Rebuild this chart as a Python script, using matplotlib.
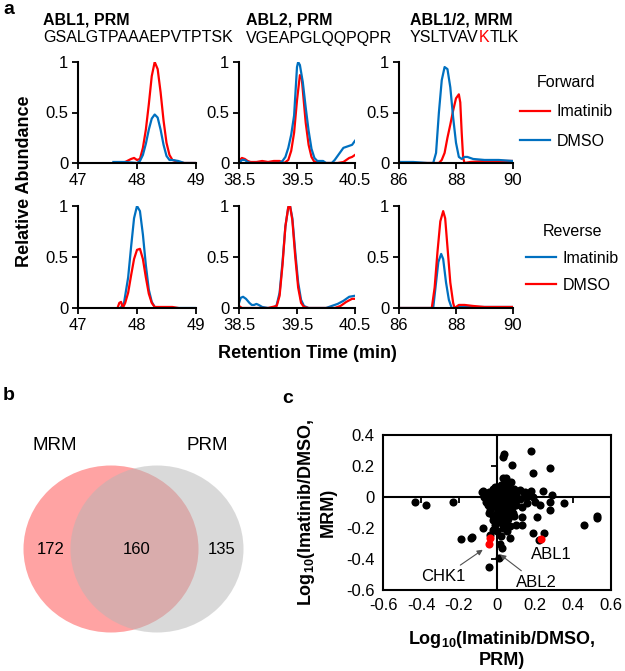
import matplotlib.pyplot as plt
from matplotlib.patches import Ellipse

plt.rcParams['font.family'] = 'Liberation Sans'
plt.rcParams['mathtext.fontset'] = 'custom'
plt.rcParams['mathtext.bf'] = 'Liberation Sans:bold'
plt.rcParams['mathtext.default'] = 'bf'

RED = '#FF0000'
BLUE = '#0070C0'

# ---- panel a : chromatograms (time in min, relative abundance) ----
# forward, ABL1 PRM
abl1_fwd_ima_t = [47.60, 47.80, 47.90, 47.95, 48.00, 48.05, 48.10, 48.15, 48.20, 48.25,
                  48.30, 48.35, 48.40, 48.45, 48.50, 48.55, 48.60, 48.70, 48.80, 49.00]
abl1_fwd_ima = [0.00, 0.01, 0.04, 0.05, 0.03, 0.04, 0.15, 0.33, 0.58, 0.86,
                1.00, 0.93, 0.70, 0.42, 0.20, 0.08, 0.03, 0.01, 0.00, 0.00]
abl1_fwd_dmso_t = [47.60, 47.80, 48.00, 48.05, 48.10, 48.15, 48.20, 48.25, 48.30, 48.35,
                   48.40, 48.45, 48.50, 48.55, 48.60, 48.70, 48.80, 49.00]
abl1_fwd_dmso = [0.01, 0.01, 0.00, 0.02, 0.08, 0.19, 0.33, 0.44, 0.48, 0.45,
                 0.33, 0.18, 0.07, 0.03, 0.03, 0.02, 0.00, 0.00]

# forward, ABL2 PRM
abl2_fwd_ima_t = [38.50, 38.55, 38.60, 38.65, 38.70, 38.80, 38.90, 39.00, 39.10, 39.20,
                  39.28, 39.35, 39.40, 39.45, 39.50, 39.55, 39.58, 39.60, 39.65, 39.70,
                  39.75, 39.80, 39.85, 39.90, 39.95, 40.00, 40.10, 40.20, 40.30, 40.35,
                  40.40, 40.45, 40.50]
abl2_fwd_ima = [0.02, 0.05, 0.04, 0.02, 0.01, 0.01, 0.02, 0.01, 0.02, 0.02,
                0.00, 0.03, 0.12, 0.30, 0.62, 0.87, 0.85, 0.72, 0.40, 0.18,
                0.06, 0.01, 0.01, 0.01, 0.00, 0.00, 0.00, 0.00, 0.01, 0.03,
                0.05, 0.06, 0.08]
abl2_fwd_dmso_t = [38.50, 38.55, 38.60, 38.65, 38.70, 38.80, 38.90, 39.00, 39.10, 39.20,
                   39.25, 39.30, 39.35, 39.40, 39.45, 39.50, 39.52, 39.55, 39.60, 39.65,
                   39.70, 39.75, 39.80, 39.85, 39.90, 39.95, 40.00, 40.05, 40.10, 40.15,
                   40.20, 40.25, 40.30, 40.35, 40.40, 40.45, 40.50]
abl2_fwd_dmso = [0.00, 0.03, 0.03, 0.01, 0.00, 0.00, 0.00, 0.00, 0.00, 0.00,
                 0.02, 0.06, 0.15, 0.28, 0.47, 0.95, 1.00, 0.97, 0.80, 0.55,
                 0.32, 0.14, 0.05, 0.02, 0.02, 0.02, 0.00, 0.00, 0.00, 0.03,
                 0.07, 0.11, 0.15, 0.16, 0.17, 0.18, 0.22]

# forward, ABL1/2 MRM
mrm_fwd_ima_t = [86.0, 86.5, 87.0, 87.4, 87.5, 87.6, 87.7, 87.8, 87.9, 88.0,
                 88.1, 88.15, 88.2, 88.25, 88.3, 88.5, 89.0, 89.5, 90.0]
mrm_fwd_ima = [0.01, 0.00, 0.00, 0.00, 0.03, 0.10, 0.25, 0.38, 0.52, 0.64,
               0.68, 0.60, 0.30, 0.05, 0.00, 0.01, 0.02, 0.02, 0.02]
mrm_fwd_dmso_t = [86.0, 86.5, 87.0, 87.2, 87.3, 87.4, 87.5, 87.6, 87.7, 87.8,
                  87.9, 88.0, 88.1, 88.2, 88.3, 88.4, 88.6, 89.0, 89.5, 90.0]
mrm_fwd_dmso = [0.01, 0.01, 0.00, 0.00, 0.10, 0.50, 0.82, 0.95, 0.93, 0.75,
                0.45, 0.20, 0.06, 0.04, 0.06, 0.06, 0.04, 0.03, 0.03, 0.02]

# reverse, ABL1 PRM
abl1_rev_ima_t = [47.72, 47.78, 47.85, 47.90, 47.95, 48.00, 48.05, 48.10, 48.15, 48.20,
                  48.25, 48.30, 48.40, 48.60, 49.00]
abl1_rev_ima = [0.00, 0.05, 0.30, 0.60, 0.88, 1.00, 0.95, 0.72, 0.42, 0.18,
                0.06, 0.01, 0.00, 0.00, 0.00]
abl1_rev_dmso_t = [47.67, 47.70, 47.73, 47.76, 47.80, 47.85, 47.90, 47.95, 48.00, 48.05,
                   48.10, 48.15, 48.20, 48.25, 48.30, 48.40, 48.60, 48.70]
abl1_rev_dmso = [0.00, 0.05, 0.06, 0.00, 0.05, 0.15, 0.32, 0.48, 0.57, 0.58,
                 0.48, 0.30, 0.14, 0.05, 0.01, 0.01, 0.01, 0.00]

# reverse, ABL2 PRM
abl2_rev_ima_t = [38.50, 38.53, 38.57, 38.62, 38.68, 38.72, 38.76, 38.80, 38.84, 38.90,
                  39.00, 39.10, 39.15, 39.20, 39.25, 39.30, 39.35, 39.38, 39.42, 39.47,
                  39.52, 39.57, 39.62, 39.70, 39.90, 40.00, 40.10, 40.20, 40.30, 40.40,
                  40.50]
abl2_rev_ima = [0.05, 0.10, 0.11, 0.09, 0.05, 0.03, 0.03, 0.04, 0.03, 0.01,
                0.00, 0.00, 0.03, 0.15, 0.45, 0.80, 0.99, 1.00, 0.88, 0.55,
                0.25, 0.08, 0.02, 0.00, 0.00, 0.00, 0.02, 0.04, 0.07, 0.11,
                0.12]
abl2_rev_dmso_t = [38.50, 38.55, 39.00, 39.15, 39.20, 39.25, 39.30, 39.35, 39.38, 39.42,
                   39.47, 39.52, 39.57, 39.62, 39.70, 40.00, 40.15, 40.25, 40.35, 40.45,
                   40.50]
abl2_rev_dmso = [0.02, 0.00, 0.00, 0.02, 0.12, 0.42, 0.80, 0.99, 1.00, 0.86,
                 0.50, 0.20, 0.05, 0.01, 0.00, 0.00, 0.00, 0.02, 0.06, 0.09,
                 0.09]

# reverse, ABL1/2 MRM
mrm_rev_ima_t = [86.0, 87.0, 87.2, 87.28, 87.38, 87.48, 87.55, 87.65, 87.75, 87.85,
                 87.95, 88.1, 88.5, 89.0, 90.0]
mrm_rev_ima = [0.00, 0.00, 0.00, 0.20, 0.45, 0.53, 0.48, 0.25, 0.08, 0.00,
               0.00, 0.01, 0.01, 0.01, 0.01]
mrm_rev_dmso_t = [86.0, 87.0, 87.15, 87.25, 87.35, 87.45, 87.55, 87.62, 87.70, 87.80,
                  87.90, 87.95, 88.1, 88.3, 88.6, 89.0, 90.0]
mrm_rev_dmso = [0.00, 0.00, 0.00, 0.20, 0.55, 0.85, 0.95, 0.88, 0.60, 0.25,
                0.05, 0.00, 0.03, 0.03, 0.02, 0.01, 0.01]

titles = ['ABL1, PRM', 'ABL2, PRM', 'ABL1/2, MRM']
sequences = ['GSALGTPAAAEPVTPTSK', 'VGEAPGLQQPQPR', 'YSLTVAVKTLK']
xticks_a = [[47, 48, 49], [38.5, 39.5, 40.5], [86, 88, 90]]
xticklabels_a = [['47', '48', '49'], ['38.5', '39.5', '40.5'], ['86', '88', '90']]

# ---- panel b : venn counts ----
venn_sets = ['MRM', 'PRM']
venn_counts = [172, 160, 135]   # MRM only, both, PRM only

# ---- panel c : log10(Imatinib/DMSO), (PRM, MRM) ----
other_points = [
    (-0.43, -0.03), (-0.375, -0.05), (-0.23, -0.03), (-0.19, -0.273), (-0.137, -0.262),
    (-0.133, -0.256), (-0.072, -0.20), (-0.042, -0.45), (-0.077, 0.034), (0.035, 0.28),
    (0.03, 0.26), (0.081, 0.206), (0.18, 0.30), (0.19, 0.157), (0.28, 0.185),
    (0.047, 0.12), (0.072, 0.10), (-0.01, 0.067), (-0.072, 0.039), (0.025, 0.045),
    (0.14, 0.024), (0.18, 0.04), (0.244, 0.039), (0.288, 0.013), (0.35, -0.037),
    (0.525, -0.12), (0.525, -0.135), (0.20, -0.03), (0.28, -0.03), (0.226, -0.052),
    (0.28, -0.084), (0.13, -0.127), (0.209, -0.13), (-0.037, -0.084), (0.033, -0.062),
    (0.13, -0.062), (0.086, -0.105), (0.46, -0.18), (-0.02, -0.148), (0.025, -0.17),
    (0.068, -0.19), (0.13, -0.18), (0.0, -0.22), (-0.037, -0.245), (0.068, -0.267),
    (0.19, -0.234), (0.247, -0.234), (0.22, -0.28), (0.016, -0.30), (0.025, -0.33),
    (0.012, -0.395), (0.19, 0.0), (0.165, 0.006), (0.12, 0.045), (0.147, 0.034),
    (-0.06, 0.01), (-0.05, -0.02), (-0.04, 0.03), (-0.03, -0.01), (-0.02, 0.02),
    (-0.01, 0.04), (0.0, 0.0), (0.01, 0.03), (0.02, 0.05), (0.03, 0.01),
    (0.04, 0.06), (0.05, 0.02), (0.06, 0.04), (0.07, 0.0), (0.08, 0.03),
    (0.09, 0.05), (0.10, 0.01), (0.12, -0.01), (0.15, 0.0),
    (-0.05, -0.05), (-0.03, -0.06), (-0.01, -0.04), (0.0, -0.07), (0.01, -0.02),
    (0.02, -0.05), (0.03, -0.03), (0.04, -0.08), (0.05, -0.04), (0.06, -0.06),
    (0.07, -0.03), (0.08, -0.07), (0.09, -0.02), (0.10, -0.05), (0.16, -0.04),
    (-0.04, -0.10), (-0.02, -0.12), (0.0, -0.10), (0.02, -0.13), (0.03, -0.09),
    (0.04, -0.15), (0.05, -0.11), (0.06, -0.14), (0.07, -0.10), (0.09, -0.12),
    (0.0, 0.06), (0.02, 0.08), (0.04, 0.10), (0.06, 0.08), (0.03, 0.12),
    (-0.02, 0.05), (0.01, -0.16), (-0.01, -0.18), (0.03, -0.20), (0.05, -0.22),
    (0.02, -0.25), (-0.02, -0.21), (-0.06, -0.03), (-0.07, 0.0), (0.0, 0.02),
    (0.02, -0.01), (0.04, 0.02), (0.06, 0.0), (0.05, -0.18), (0.10, -0.18),
    (0.0, -0.14), (0.055, 0.09),
]
highlight_names = ['CHK1', 'ABL2', 'ABL1']
highlight_prm = [-0.04, -0.035, 0.23]
highlight_mrm = [-0.30, -0.265, -0.27]

W, H = 625, 671
fig = plt.figure(figsize=(W / 100, H / 100), dpi=100)


def box(l, t, r, b):
    # axes from pixel box (left, top, right, bottom)
    return fig.add_axes([l / W, 1 - b / H, (r - l) / W, (b - t) / H])


def fx(x):
    return x / W


def fy(y):
    return 1 - y / H


traces = [
    [(abl1_fwd_ima_t, abl1_fwd_ima, RED), (abl1_fwd_dmso_t, abl1_fwd_dmso, BLUE)],
    [(abl2_fwd_ima_t, abl2_fwd_ima, RED), (abl2_fwd_dmso_t, abl2_fwd_dmso, BLUE)],
    [(mrm_fwd_ima_t, mrm_fwd_ima, RED), (mrm_fwd_dmso_t, mrm_fwd_dmso, BLUE)],
    [(abl1_rev_ima_t, abl1_rev_ima, BLUE), (abl1_rev_dmso_t, abl1_rev_dmso, RED)],
    [(abl2_rev_ima_t, abl2_rev_ima, BLUE), (abl2_rev_dmso_t, abl2_rev_dmso, RED)],
    [(mrm_rev_ima_t, mrm_rev_ima, BLUE), (mrm_rev_dmso_t, mrm_rev_dmso, RED)],
]
cols = [(78, 196), (239, 355), (399, 513)]
rows = [(62, 163), (206, 308)]

axes_a = []
for k, tr in enumerate(traces):
    r, c = divmod(k, 3)
    ax = box(cols[c][0], rows[r][0], cols[c][1], rows[r][1])
    lines = []
    for t, y, col in tr:
        ln, = ax.plot(t, y, color=col, lw=1.6)
        lines.append(ln)
    ax.set_xlim(xticks_a[c][0], xticks_a[c][-1])
    ax.set_ylim(0, 1)
    ax.set_xticks(xticks_a[c], xticklabels_a[c])
    ax.set_yticks([0, 0.5, 1], ['0', '0.5', '1'])
    for s in ['top', 'right']:
        ax.spines[s].set_visible(False)
    for s in ['left', 'bottom']:
        ax.spines[s].set_linewidth(1.5)
    ax.tick_params(direction='out', length=4, width=1.3, labelsize=12, pad=3)
    axes_a.append((ax, lines))

# legends
ax3, l3 = axes_a[2]
ax3.legend(l3, ['Imatinib', 'DMSO'], title='Forward', frameon=False, fontsize=11.5,
           title_fontsize=11.5, loc='upper left', bbox_to_anchor=(fx(520), fy(75)),
           bbox_transform=fig.transFigure, borderpad=0, borderaxespad=0,
           handlelength=1.9, handletextpad=0.4, labelspacing=0.9)
ax6, l6 = axes_a[5]
ax6.legend(l6, ['Imatinib', 'DMSO'], title='Reverse', frameon=False, fontsize=11.5,
           title_fontsize=11.5, loc='upper left', bbox_to_anchor=(fx(526), fy(224)),
           bbox_transform=fig.transFigure, borderpad=0, borderaxespad=0,
           handlelength=1.9, handletextpad=0.4, labelspacing=0.75)

# titles and peptide sequences
fig.canvas.draw()
rend = fig.canvas.get_renderer()
for x0, title, seq in zip([43, 246, 410], titles, sequences):
    fig.text(fx(x0), fy(20), title, fontsize=11.5, fontweight='bold', va='center')
    if seq == 'YSLTVAVKTLK':
        parts = [('YSLTVAV', 'black'), ('K', RED), ('TLK', 'black')]
    else:
        parts = [(seq, 'black')]
    xx = fx(x0)
    for s, col in parts:
        t = fig.text(xx, fy(38), s, fontsize=11.5, color=col, va='center')
        xx = t.get_window_extent(rend).x1 / W

fig.text(fx(25), fy(181), 'Relative Abundance', rotation=90, fontsize=13,
         fontweight='bold', ha='center', va='center')
fig.text(fx(307), fy(353), 'Retention Time (min)', fontsize=13,
         fontweight='bold', ha='center', va='center')

# panel letters
fig.text(fx(9), fy(10), 'a', fontsize=14, fontweight='bold', ha='center', va='center')
fig.text(fx(9), fy(396), 'b', fontsize=14, fontweight='bold', ha='center', va='center')
fig.text(fx(288), fy(398), 'c', fontsize=14, fontweight='bold', ha='center', va='center')

# ---- panel b : venn ----
axv = box(0, 420, 290, 671)
axv.set_xlim(0, 290)
axv.set_ylim(251, 0)
axv.axis('off')
axv.add_patch(Ellipse((111, 129), 175, 167, facecolor='#FFA3A3', edgecolor='none'))
axv.add_patch(Ellipse((157, 129), 173, 167, facecolor='#B5B5B5', alpha=0.5,
                      edgecolor='none'))
axv.text(55, 25, venn_sets[0], fontsize=13.5, ha='center', va='center')
axv.text(207, 25, venn_sets[1], fontsize=13.5, ha='center', va='center')
for xpos, n in zip([51, 137, 222], venn_counts):
    axv.text(xpos, 129, str(n), fontsize=12, ha='center', va='center')

# ---- panel c : scatter ----
axc = box(383, 435, 611, 590)
px, py = zip(*other_points)
axc.scatter(px, py, s=34, color='black', zorder=3, linewidths=0)
axc.scatter(highlight_prm, highlight_mrm, s=34, color=RED, zorder=4, linewidths=0)
axc.set_xlim(-0.6, 0.6)
axc.set_ylim(-0.6, 0.4)
xt = [-0.6, -0.4, -0.2, 0, 0.2, 0.4, 0.6]
yt = [-0.6, -0.4, -0.2, 0, 0.2, 0.4]
axc.set_xticks(xt, ['-0.6', '-0.4', '-0.2', '0', '0.2', '0.4', '0.6'])
axc.set_yticks(yt, ['-0.6', '-0.4', '-0.2', '0', '0.2', '0.4'])
axc.tick_params(length=0, labelsize=12, pad=6)
for s in axc.spines.values():
    s.set_linewidth(1.5)
axc.axhline(0, color='black', lw=1.5, zorder=2)
axc.axvline(0, color='black', lw=1.5, zorder=2)
axc.plot(xt[1:-1], [0] * 5, ls='none', marker=3, ms=4, mew=1.3, color='black', zorder=2)
axc.plot([0] * 4, yt[1:-1], ls='none', marker=0, ms=4, mew=1.3, color='black', zorder=2)

arrow = dict(arrowstyle='-|>', color='#505050', lw=0.8, mutation_scale=8)
axc.annotate('CHK1', xy=(-0.063, -0.33), xytext=(-0.284, -0.516), fontsize=12,
             ha='center', va='center', arrowprops=arrow, zorder=5)
axc.annotate('ABL2', xy=(0.005, -0.36), xytext=(0.21, -0.553), fontsize=12,
             ha='center', va='center', arrowprops=arrow, zorder=5)
axc.text(0.284, -0.374, 'ABL1', fontsize=12, ha='center', va='center')

fig.text(fx(316), fy(512), 'Log$_{10}$(Imatinib/DMSO,\nMRM)', rotation=90,
         fontsize=13, fontweight='bold', ha='center', va='center', multialignment='center')
fig.text(fx(502), fy(649), 'Log$_{10}$(Imatinib/DMSO,\nPRM)',
         fontsize=13, fontweight='bold', ha='center', va='center', multialignment='center')

fig.savefig('out.png', dpi=100)
